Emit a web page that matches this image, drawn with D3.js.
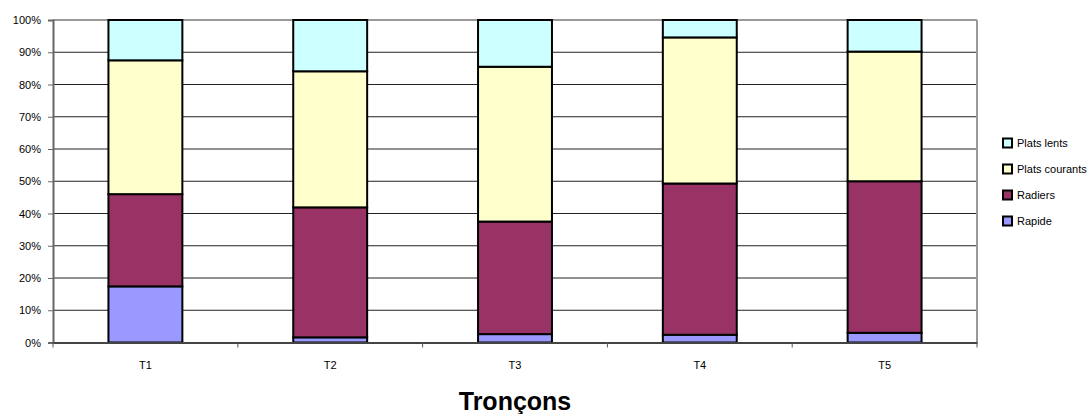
<!DOCTYPE html>
<html>
<head>
<meta charset="utf-8">
<script src="https://cdn.jsdelivr.net/npm/d3@7"></script>
<style>
  html, body { margin: 0; padding: 0; background: #fff; }
  svg { display: block; font-family: Arial, "Liberation Sans", sans-serif; }
</style>
</head>
<body>
<svg id="chart" width="1090" height="414"></svg>
<script>
const categories = ["T1", "T2", "T3", "T4", "T5"];
const seriesNames = ["Rapide", "Radiers", "Plats courants", "Plats lents"];
const rapide        = [17.4,  1.6,  2.6,  2.4,  3.0];
const radiers       = [28.6, 40.3, 34.9, 46.9, 47.0];
const platsCourants = [41.5, 42.2, 48.0, 45.3, 40.2];
const platsLents    = [12.5, 15.9, 14.5,  5.4,  9.8];
const yTicks = [0, 10, 20, 30, 40, 50, 60, 70, 80, 90, 100];
const xTitle = "Tronçons";
const colors = ["#9999FF", "#993366", "#FFFFCC", "#CCFFFF"];

const seriesValues = [rapide, radiers, platsCourants, platsLents];
const rows = categories.map((c, i) => {
  const r = { cat: c };
  seriesNames.forEach((s, j) => r[s] = seriesValues[j][i]);
  return r;
});
const stacked = d3.stack().keys(seriesNames).offset(d3.stackOffsetExpand)(rows);

const svg = d3.select("#chart");
const pLeft = 53, pRight = 977, pTop = 20, pBottom = 342.5;

const x = d3.scaleBand().domain(categories).range([pLeft, pRight])
  .paddingInner(0.6).paddingOuter(0.3);
const y = d3.scaleLinear().domain([0, 1]).range([pBottom, pTop]);

// gridlines
svg.append("g").selectAll("line").data(yTicks.filter(t => t > 0 && t < 100)).join("line")
  .attr("x1", pLeft).attr("x2", pRight)
  .attr("y1", d => y(d / 100)).attr("y2", d => y(d / 100))
  .attr("stroke", "#222").attr("stroke-width", 1);

// top and right border
svg.append("line").attr("x1", pLeft).attr("x2", pRight).attr("y1", pTop).attr("y2", pTop)
  .attr("stroke", "#999").attr("stroke-width", 2);
svg.append("line").attr("x1", pRight).attr("x2", pRight).attr("y1", pTop).attr("y2", pBottom)
  .attr("stroke", "#999").attr("stroke-width", 2);

// bars
svg.append("g").selectAll("g").data(stacked).join("g")
  .attr("fill", (d, i) => colors[i])
  .selectAll("rect").data(d => d).join("rect")
  .attr("x", d => x(d.data.cat))
  .attr("width", x.bandwidth())
  .attr("y", d => y(d[1]))
  .attr("height", d => y(d[0]) - y(d[1]))
  .attr("stroke", "#000").attr("stroke-width", 2);

// left axis
const yAxis = d3.axisLeft(y).tickValues(yTicks.map(t => t / 100))
  .tickFormat(d => Math.round(d * 100) + "%").tickSize(5).tickPadding(7);
const ga = svg.append("g").attr("transform", `translate(${pLeft},0)`).call(yAxis);
ga.select(".domain").attr("stroke", "#666").attr("stroke-width", 2);
ga.selectAll(".tick line").attr("stroke", "#666");
ga.selectAll("text").attr("font-size", 11).attr("fill", "#000")
  .attr("font-family", "Arial, 'Liberation Sans', sans-serif");

// bottom axis
const xAxis = d3.axisBottom(x).tickSize(0).tickPadding(19);
const gx = svg.append("g").attr("transform", `translate(0,${pBottom})`).call(xAxis);
gx.select(".domain").attr("stroke", "#444").attr("stroke-width", 2);
gx.selectAll("text").attr("font-size", 11).attr("fill", "#000")
  .attr("font-family", "Arial, 'Liberation Sans', sans-serif");
// category boundary ticks
const step = x.step();
svg.append("g").selectAll("line").data(d3.range(categories.length + 1)).join("line")
  .attr("x1", i => pLeft + i * step).attr("x2", i => pLeft + i * step)
  .attr("y1", pBottom).attr("y2", pBottom + 5)
  .attr("stroke", "#555").attr("stroke-width", 1);

// title
svg.append("text").attr("x", (pLeft + pRight) / 2).attr("y", 410)
  .attr("text-anchor", "middle").attr("font-size", 25).attr("font-weight", "bold")
  .text(xTitle);

// legend (reverse order)
const legendOrder = seriesNames.map((s, i) => ({ name: s, color: colors[i] })).reverse();
const lg = svg.append("g").selectAll("g").data(legendOrder).join("g")
  .attr("transform", (d, i) => `translate(1003,${143 + i * 26})`);
lg.append("rect").attr("x", 0).attr("y", -4.5).attr("width", 9).attr("height", 9)
  .attr("fill", d => d.color).attr("stroke", "#000").attr("stroke-width", 2);
lg.append("text").attr("x", 14).attr("y", 4).attr("font-size", 11)
  .text(d => d.name);
</script>
</body>
</html>
